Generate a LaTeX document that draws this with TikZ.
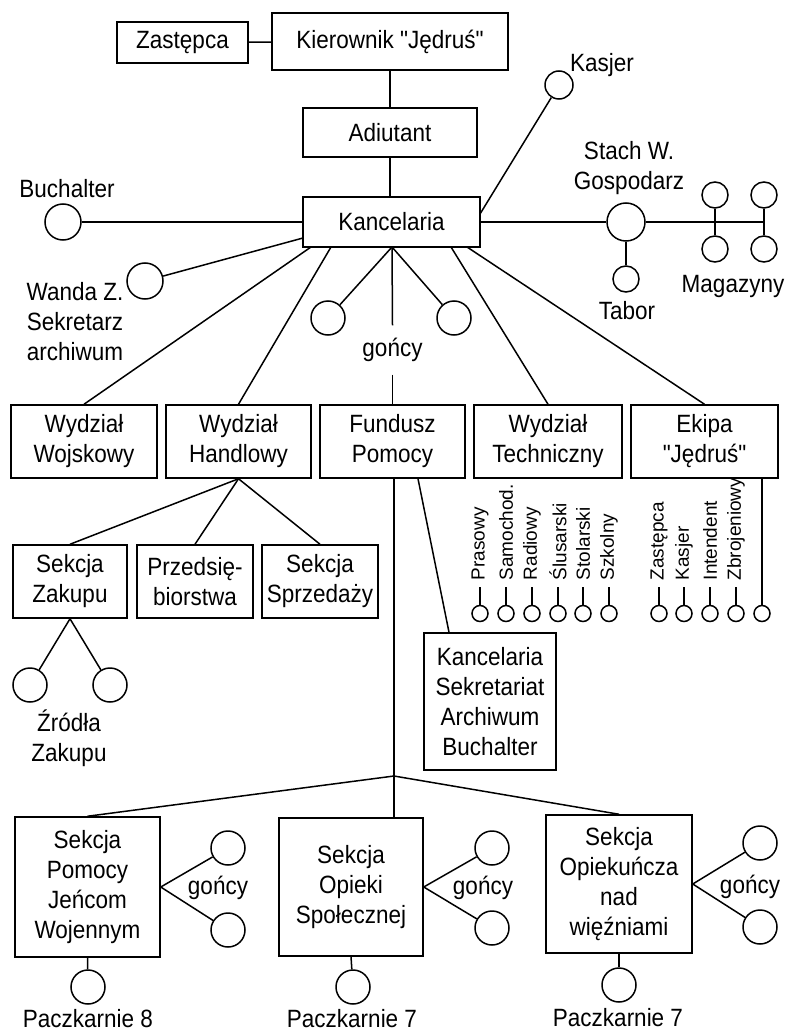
\documentclass[tikz,border=0pt]{standalone}
\usepackage{fontspec}
\setmainfont{Liberation Sans}[FakeStretch=0.9,Ligatures=TeXOff]
\newfontfamily\rotfamily{Liberation Sans}[Ligatures=TeXOff]
\newcommand\bigf{\fontsize{25}{30}\selectfont}
\newcommand\smallf{\rotfamily\fontsize{19}{23}\selectfont}
\begin{document}
\begin{tikzpicture}[x=1pt,y=-1pt,line width=1.5pt,
  box/.style={draw,line width=1.5pt,inner sep=0pt,align=center,font=\bigf},
  ring/.style={draw,circle,inner sep=0pt,line width=1.5pt,minimum size=#1},
  ring/.default=34pt,
  lbl/.style={inner sep=0pt,align=center,font=\bigf},
  rlbl/.style={rotate=90,anchor=west,inner sep=0pt,font=\smallf}]
\fill[white] (0,0) rectangle (787,1035);
\useasboundingbox (0,0) rectangle (787,1035);

% top boxes
\node[box,minimum width=131pt,minimum height=41pt] (zast) at (182.5,42.5) {Zastępca};
\node[box,minimum width=236pt,minimum height=57pt] (kier) at (390,41.5) {Kierownik "Jędruś"};
\node[box,minimum width=174pt,minimum height=49pt] (adiu) at (390,132.5) {Adiutant};
\node[box,minimum width=177pt,minimum height=50pt] (kanc) at (391.5,222) {Kancelaria};

\draw (zast) -- (kier);
\draw (kier) -- (adiu);
\draw (adiu.south) -- (adiu.south |- kanc.north);

% Buchalter
\node[ring=36pt] (buch) at (63,222) {};
\node[lbl] (buchl) at (67,189) {Buchalter};
\draw (buch) -- (kanc);

% Kasjer
\node[ring=28pt] (kasjer) at (559,85) {};
\node[lbl] (kasjl) at (602,65) {Kasjer};
\coordinate (ke) at (480,214);
\draw (kasjer) -- (ke);

% Stach / Magazyny / Tabor
\node[ring=38pt] (stach) at (626,222) {};
\node[lbl] (stachl) at (629,168) {Stach W.\\Gospodarz};
\node[ring=26pt] (tabor) at (626,279) {};
\node[lbl] (taborl) at (627,311) {Tabor};
\node[ring=26pt] (m1a) at (715,195) {};
\node[ring=26pt] (m1b) at (715,249) {};
\node[ring=26pt] (m2a) at (764,195) {};
\node[ring=26pt] (m2b) at (764,249) {};
\node[lbl] (magl) at (733,286) {Magazyny};
\coordinate (magR) at (764,222);
\draw (kanc) -- (stach);
\draw (stach) -- (magR);
\draw (stach) -- (tabor);
\draw (m1a) -- (m1b);
\draw (m2a) -- (m2b);

% Wanda
\node[ring=36pt] (wanda) at (145,281) {};
\node[lbl] (wandal) at (75,322) {Wanda Z.\\Sekretarz\\archiwum};
\coordinate (kw) at (303,238);
\draw (wanda) -- (kw);

% second row
\node[box,minimum width=146pt,minimum height=73pt] (wojs) at (84,441.5) {Wydział\\Wojskowy};
\node[box,minimum width=145pt,minimum height=73pt] (hand) at (238.5,441.5) {Wydział\\Handlowy};
\node[box,minimum width=145pt,minimum height=73pt] (fund) at (392.5,441.5) {Fundusz\\Pomocy};
\node[box,minimum width=148pt,minimum height=73pt] (tech) at (548,441.5) {Wydział\\Techniczny};
\node[box,minimum width=147pt,minimum height=73pt] (ekipa) at (704.5,441.5) {Ekipa\\"Jędruś"};

\coordinate (kb1) at (311,247);
\coordinate (kb2) at (331,247);
\coordinate (kh) at (392,247);
\coordinate (kb4) at (451,247);
\coordinate (kb5) at (467,247);
\node[ring=34pt] (g1) at (328,318) {};
\node[ring=34pt] (g2) at (454,318) {};
\node[lbl,inner ysep=12pt] (goncy) at (392.5,350) {gońcy};
\draw (kb1) -- (wojs.north);
\draw (kb2) -- (hand.north);
\draw (kh) -- (g1);
\draw (kh) -- (g2);
\draw (kh) -- (goncy.north);
\draw (goncy.south) -- (fund.north);
\draw (kb4) -- (tech.north);
\draw (kb5) -- (ekipa.north);

% third row
\node[box,minimum width=114pt,minimum height=73pt] (zak) at (70,581.5) {Sekcja\\Zakupu};
\node[box,minimum width=116pt,minimum height=73pt] (prz) at (195,581.5) {Przedsię-\\biorstwa};
\node[box,minimum width=116pt,minimum height=73pt] (sprz) at (320,581.5) {Sekcja\\Sprzedaży};
\draw (hand.south) -- (zak.north);
\draw (hand.south) -- (prz.north);
\draw (hand.south) -- (sprz.north);

\node[ring=34pt] (zr1) at (30,685) {};
\node[ring=34pt] (zr2) at (110,685) {};
\node[lbl] (zrl) at (69,738) {Źródła\\Zakupu};
\draw (zak.south) -- (zr1);
\draw (zak.south) -- (zr2);

% Techniczny sub-units
\foreach \n/\x/\t in {1/480/Prasowy,2/506/Samochod.,3/532/Radiowy,4/558/Ślusarski,5/583/Stolarski,6/609/Szkolny}{
  \node[rlbl] (tl\n) at (\x,581) {\t};
  \node[ring=16pt] (tc\n) at (\x,613.5) {};
  \draw (tc\n.north) -- ++(0,-18);
}
\foreach \n/\x/\t in {1/659/Zastępca,2/684/Kasjer,3/710/Intendent,4/736/Zbrojeniowy}{
  \node[rlbl] (el\n) at (\x,581) {\t};
  \node[ring=16pt] (ec\n) at (\x,613.5) {};
  \draw (ec\n.north) -- ++(0,-18);
}
\node[ring=16pt] (ec5) at (762,613.5) {};
\draw (ec5 |- ekipa.south) -- (ec5);

% Kancelaria Sekretariat box
\node[box,minimum width=132pt,minimum height=137pt] (ksab) at (490,701.5) {Kancelaria\\Sekretariat\\Archiwum\\Buchalter};
\draw ([xshift=25.5pt]fund.south) -- ([xshift=-41pt]ksab.north);

% bottom sections
\node[box,minimum width=145pt,minimum height=140pt] (s1) at (87.5,887) {Sekcja\\Pomocy\\Jeńcom\\Wojennym};
\node[box,minimum width=144pt,minimum height=138pt] (s2) at (351,887) {Sekcja\\Opieki\\Społecznej};
\node[box,minimum width=146pt,minimum height=138pt] (s3) at (619,884) {Sekcja\\Opiekuńcza\\nad\\więźniami};

\coordinate (hub) at (394,776);
\draw (hub |- fund.south) -- (hub |- s2.north);
\draw (hub) -- (s1.north);
\draw (hub) -- (s3.north);

% gońcy of sections
\node[ring=34pt] (s1a) at (228,848) {};
\node[ring=34pt] (s1b) at (228,930) {};
\node[lbl] (s1g) at (218,888) {gońcy};
\draw (s1.east) -- (s1a);
\draw (s1.east) -- (s1b);
\node[ring=34pt] (s2a) at (492,848) {};
\node[ring=34pt] (s2b) at (492,928) {};
\node[lbl] (s2g) at (483,888) {gońcy};
\draw (s2.east) -- (s2a);
\draw (s2.east) -- (s2b);
\node[ring=34pt] (s3a) at (760,843) {};
\node[ring=34pt] (s3b) at (760,927) {};
\node[lbl] (s3g) at (750,887) {gońcy};
\draw (s3.east) -- (s3a);
\draw (s3.east) -- (s3b);

% Paczkarnie
\node[ring=34pt] (p1) at (88,987) {};
\node[ring=34pt] (p2) at (353,987) {};
\node[ring=34pt] (p3) at (619,985) {};
\node[lbl] (p1l) at (88,1019) {Paczkarnie 8};
\node[lbl] (p2l) at (352,1019) {Paczkarnie 7};
\node[lbl] (p3l) at (618,1018) {Paczkarnie 7};
\draw (s1.south) -- (p1);
\draw (s2.south) -- (p2);
\draw (s3.south) -- (p3);
\end{tikzpicture}
\end{document}
